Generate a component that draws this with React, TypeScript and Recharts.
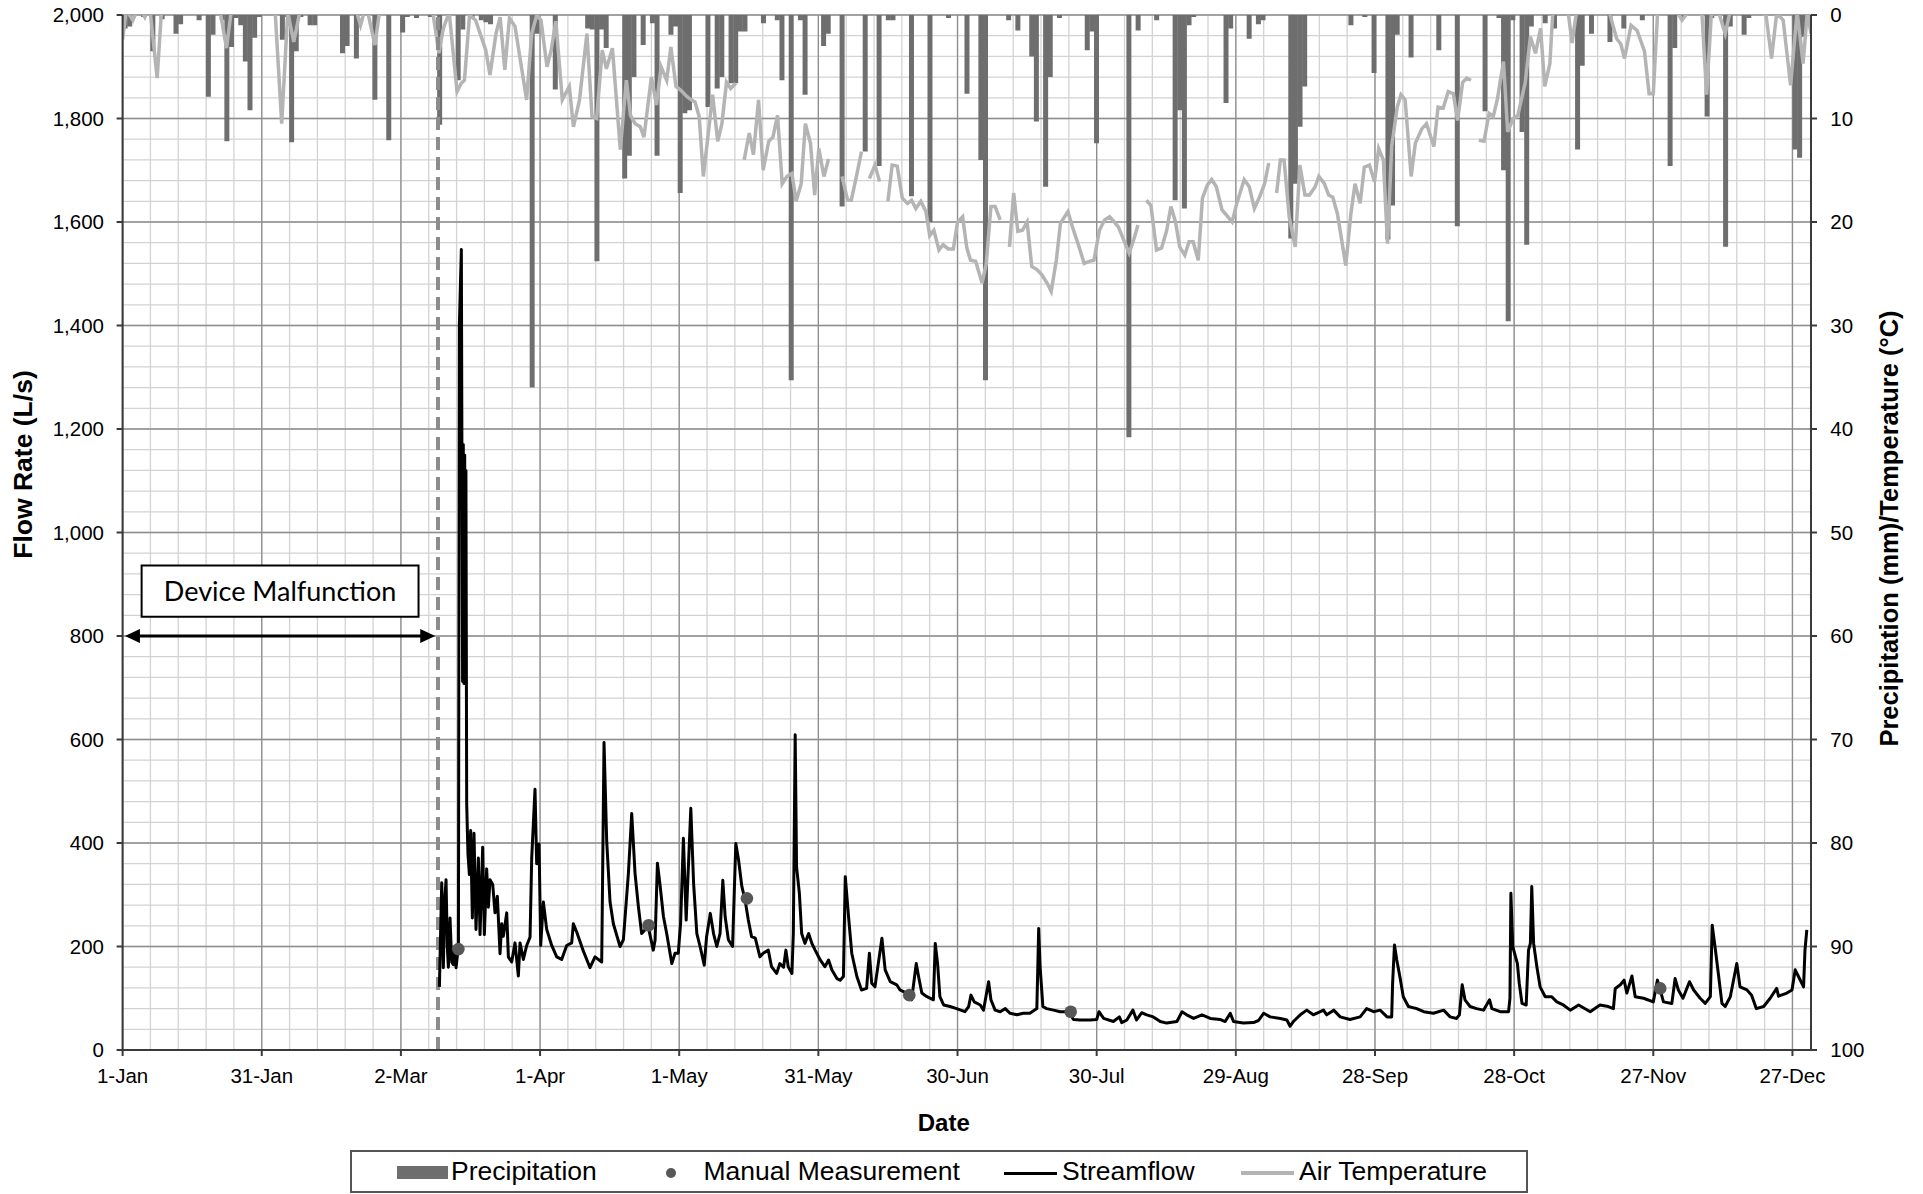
import React from "react";
import {
  ComposedChart,
  Bar,
  Line,
  Scatter,
  XAxis,
  YAxis,
  CartesianGrid,
  ReferenceLine,
  ReferenceArea,
} from "recharts";

// day of year: 0 = 1-Jan, tick every 30 days
const xTickLabels = [
  "1-Jan", "31-Jan", "2-Mar", "1-Apr", "1-May", "31-May", "30-Jun",
  "30-Jul", "29-Aug", "28-Sep", "28-Oct", "27-Nov", "27-Dec",
];
const xTicks = xTickLabels.map((_, i) => i * 30);
const flowTicks = [0, 200, 400, 600, 800, 1000, 1200, 1400, 1600, 1800, 2000];
const rightTicks = [0, 10, 20, 30, 40, 50, 60, 70, 80, 90, 100];

// daily precipitation [day, mm]
const precipitation: [number, number][] = [
  [0, 1.3], [1, 1.1], [4, 0.2], [6, 3.5], [8, 0.4], [11, 1.8], [12, 0.9], [16, 0.5],
  [18, 7.9], [19, 1.9], [21, 0.5], [22, 12.2], [23, 3.1], [24, 0.3], [25, 1.0], [26, 4.5],
  [27, 9.2], [28, 2.2], [29, 0.2], [34, 2.4], [35, 0.2], [36, 12.3], [37, 3.5], [38, 0.2],
  [40, 1.0], [41, 1.0], [47, 3.7], [48, 3.0], [50, 4.2], [54, 8.2], [57, 12.1], [60, 1.7],
  [61, 0.2], [63, 0.3], [66, 0.2], [68, 10.6], [72, 6.3], [73, 1.4], [75, 0.2], [77, 0.5],
  [78, 0.7], [79, 0.9], [88, 36.0], [89, 1.8], [93, 7.2], [100, 1.3], [101, 1.4], [102, 23.8],
  [103, 1.4], [104, 3.2], [108, 15.8], [109, 13.6], [110, 6.0], [112, 2.9], [114, 0.8], [115, 13.6],
  [118, 1.9], [119, 1.1], [120, 17.2], [121, 9.5], [122, 9.2], [126, 8.9], [128, 7.1], [129, 6.0],
  [131, 6.6], [132, 6.6], [133, 1.6], [134, 1.6], [138, 0.8], [141, 0.5], [142, 6.3], [144, 35.3],
  [146, 0.5], [147, 7.7], [151, 3.0], [152, 1.8], [155, 18.5], [160, 13.2], [163, 14.6], [165, 0.5],
  [166, 0.5], [170, 17.5], [174, 20.0], [178, 0.3], [182, 7.6], [185, 14.0], [186, 35.3], [191, 0.5],
  [193, 1.5], [196, 4.0], [197, 10.3], [199, 16.6], [200, 6.0], [202, 0.3], [208, 3.4], [209, 1.6],
  [210, 12.4], [217, 40.8], [219, 1.5], [223, 0.5], [227, 17.9], [228, 9.2], [229, 18.7], [230, 1.0],
  [231, 0.2], [238, 8.5], [239, 1.3], [243, 2.3], [245, 0.9], [246, 0.5], [252, 21.6], [253, 16.3],
  [254, 10.8], [255, 6.9], [265, 1.0], [268, 0.2], [270, 5.6], [273, 21.7], [274, 18.4], [275, 1.9],
  [278, 4.1], [284, 3.4], [288, 20.4], [294, 9.3], [297, 0.3], [298, 15.0], [299, 29.6], [300, 0.5],
  [302, 11.3], [303, 22.2], [304, 1.1], [307, 0.8], [309, 1.3], [314, 13.0], [315, 4.9], [317, 1.8],
  [321, 2.6], [324, 1.3], [328, 0.5], [334, 14.6], [335, 3.2], [337, 0.2], [342, 9.8], [343, 0.3],
  [346, 22.4], [347, 1.1], [350, 1.9], [351, 0.3], [361, 13.0], [362, 13.8], [363, 2.1],
];

// streamflow [day, L/s], logger back online on 9-Mar
const flowMar: [number, number][] = [
  [68.3, 122], [68.8, 323], [69.15, 159], [69.45, 290], [69.73, 329], [70.0, 200], [70.23, 160],
  [70.59, 255], [70.95, 170], [71.31, 165], [71.6, 200], [71.88, 159], [72.15, 180], [72.4, 196],
  [72.6, 1399], [73.03, 1547], [73.15, 1176], [73.3, 712], [73.45, 1170], [73.6, 708], [73.75, 1150],
  [73.9, 720], [74.02, 1120], [74.18, 477], [74.45, 380], [74.76, 339], [75.04, 424], [75.4, 255],
  [75.76, 419], [76.19, 233], [76.7, 371], [77.06, 223], [77.63, 392], [77.99, 223], [78.49, 350],
  [78.85, 276], [79.21, 329], [79.79, 320], [80.29, 265], [80.79, 297], [81.37, 186], [81.73, 244],
  [82.09, 220], [82.81, 265], [83.17, 180], [83.88, 170], [84.6, 207], [85.32, 143], [85.68, 207],
  [86.4, 175], [87.12, 202], [87.84, 218], [88.2, 371], [88.91, 504], [89.27, 360], [89.78, 398],
];
const flowApr: [number, number][] = [
  [90.14, 202], [90.71, 286], [91.43, 233], [92.51, 202], [93.59, 180], [94.66, 175], [95.74, 202],
  [96.82, 207], [97.18, 244], [97.9, 228], [99.34, 191], [100.77, 159], [101.85, 180], [103.29, 170],
  [103.79, 594], [104.37, 403], [105.09, 286], [105.8, 244], [107.24, 200], [107.96, 213], [109.04, 341],
  [109.76, 457], [110.48, 341], [111.2, 277], [111.9, 225], [112.6, 232], [113.4, 235], [114.4, 193],
  [114.8, 212], [115.3, 361], [115.9, 316], [116.6, 258], [117.3, 225], [118.4, 167], [119.1, 187],
  [119.8, 187],
];
const flowMay: [number, number][] = [
  [120.3, 245], [120.9, 409], [121.5, 251], [122.5, 467], [123.1, 322], [123.8, 225], [124.5, 200],
  [125.4, 164], [125.9, 219], [126.7, 264], [127.4, 225], [128.1, 200], [128.8, 225], [129.4, 328],
  [129.9, 258], [130.6, 213], [131.5, 200], [132.2, 399], [132.8, 367], [133.5, 316], [134.2, 290],
  [134.9, 251], [135.6, 219], [136.4, 216], [137.4, 180], [138.1, 187], [139.2, 193], [139.9, 161],
  [141.0, 148], [141.7, 167], [142.5, 160], [143.0, 193], [143.5, 161], [144.3, 148], [144.6, 225],
  [145.0, 609], [145.3, 354], [145.9, 303], [146.4, 225], [147.1, 206], [147.9, 225], [148.6, 206],
  [149.3, 193], [150.4, 174],
];
const flowJun: [number, number][] = [
  [151.4, 161], [152.2, 174], [152.9, 155], [154.0, 138], [154.7, 135], [155.4, 142], [155.8, 335],
  [156.5, 258], [157.2, 187], [158.3, 142], [159.3, 116], [160.4, 119], [161.0, 187], [161.5, 129],
  [162.2, 122], [163.7, 216], [164.4, 155], [165.5, 132], [166.9, 126], [167.6, 116], [169.0, 110],
  [170.1, 97], [171.1, 167], [171.6, 142], [172.3, 110], [173.4, 103], [174.8, 97], [175.2, 206],
  [175.7, 167], [176.2, 103], [177.0, 87], [178.4, 84], [179.8, 80],
];
const flowJul: [number, number][] = [
  [181.6, 74], [182.4, 84], [182.9, 106], [183.6, 93], [184.9, 87], [185.6, 77], [186.7, 132],
  [187.2, 97], [188.1, 77], [189.2, 74], [190.3, 80], [191.3, 71], [192.8, 68], [194.2, 71],
  [195.6, 71], [197.1, 80], [197.5, 235], [197.8, 161], [198.4, 84], [199.2, 80], [200.7, 77],
  [202.1, 74], [203.9, 74], [205.0, 59], [206.4, 58], [208.6, 58], [210.0, 59], [210.5, 74], [211.5, 61],
];
const flowAug: [number, number][] = [
  [213.6, 55], [214.9, 64], [215.4, 53], [216.5, 58], [217.8, 77], [218.6, 58], [219.7, 72],
  [220.8, 68], [222.2, 64], [223.7, 55], [225.1, 52], [227.3, 55], [228.4, 74], [229.4, 68],
  [230.9, 61], [232.7, 68], [234.5, 61], [236.6, 59], [237.7, 55], [238.8, 71], [239.5, 55], [241.6, 52],
];
const flowSep: [number, number][] = [
  [243.8, 53], [244.9, 57], [246.0, 71], [247.4, 64], [249.6, 61], [251.0, 58], [251.7, 46],
  [252.4, 55], [253.9, 68], [255.3, 77], [256.7, 68], [258.9, 77], [259.6, 68], [261.1, 77],
  [262.5, 64], [264.6, 59], [266.8, 64], [268.2, 80], [269.7, 74], [271.1, 77], [272.6, 64],
];
const flowOct: [number, number][] = [
  [273.6, 64], [273.8, 129], [274.2, 203], [274.7, 174], [275.4, 140], [276.1, 103], [277.2, 84],
  [279.0, 80], [280.5, 74], [282.6, 71], [284.8, 77], [286.2, 64], [287.6, 61], [288.2, 68],
  [288.8, 126], [289.4, 97], [290.5, 84], [291.9, 80], [293.4, 77], [294.7, 97], [295.2, 80],
  [297.0, 74], [298.8, 74], [299.1, 100], [299.3, 303], [299.7, 200], [300.7, 167], [301.1, 129],
  [301.7, 90], [302.6, 87], [303.1, 193], [303.5, 206],
];
const flowNov: [number, number][] = [
  [303.8, 316], [304.2, 206], [304.9, 161], [305.6, 122], [306.7, 103], [308.1, 103], [309.2, 93],
  [310.6, 87], [312.1, 77], [313.9, 87], [316.4, 74], [318.5, 87], [320.3, 84], [321.4, 80],
  [321.8, 119], [322.9, 126], [323.7, 135], [324.3, 110], [325.4, 143], [326.1, 103], [327.9, 100],
  [330.0, 93], [330.9, 135], [332.2, 93],
];
const flowDec: [number, number][] = [
  [334.0, 90], [334.7, 138], [335.4, 116], [336.4, 100], [337.8, 132], [338.7, 116], [340.1, 100],
  [341.2, 90], [342.3, 103], [342.7, 241], [343.3, 200], [344.1, 142], [344.8, 90], [345.5, 84],
  [346.6, 103], [348.0, 167], [348.7, 122], [350.2, 116], [351.2, 106], [352.2, 80], [353.8, 84],
  [355.2, 100], [356.6, 119], [357.0, 104], [358.8, 110], [359.9, 116], [360.6, 155], [361.3, 142],
  [362.4, 122], [362.7, 193], [363.1, 232],
];

// manual gauging [day, L/s]
const manualMeasurements: [number, number][] = [
  [72.4, 195], [113.4, 241], [134.6, 293], [169.6, 106], [204.4, 74], [331.5, 119],
];

// daily air temperature [day, °C]; null = missing record
const tempJanApr: [number, number | null][] = [
  [0, 2.4], [0.8, -0.5], [2.2, 0.5], [3.5, -0.8], [4.8, 0.2], [5.8, -1], [7.45, 6.1], [8.4, -0.5],
  [9.5, -4], [11, -6], [13, -3], [15, -5], [17, -3], [19, -4], [20.8, -1], [22.4, 3.2], [23.6, -1],
  [25, -4], [27, -3], [29, -5], [31, -3], [32.8, -1], [34.3, 10.5], [35.6, -0.3], [36.9, 2.6],
  [38.3, -0.5], [40, -3], [42, -5], [44, -2], [46, -4], [48, -3], [50, -1], [51.3, 1.0], [52.5, -1],
  [54.4, 2.9], [55.6, -1], [57, -4], [59, -3], [61, -5], [63, -2], [65, -3], [66.8, -0.5], [68.2, 3.7],
  [69.1, 1.4], [70.4, -0.3], [72.1, 7.4], [73.0, 6.6], [73.7, 6.3], [74.8, 0], [76.1, 0.5], [78.3, 3.4],
  [79.2, 5.8], [80.5, 1.8], [81.4, 0.2], [82.4, 5.3], [83.4, 0.3], [84.6, 1.1], [87.1, 8.2], [88.2, 1.8],
  [89.3, 0], [90.2, 0.5], [91.5, 5.0], [92.4, 3.4], [93.4, 0.6], [94.8, 8.2], [96.3, 6.9], [97.2, 10.8],
  [98.5, 8.2], [100.1, 1.8], [101.2, 9.8], [102.2, 10.0], [103.4, 3.4], [104.3, 5.2], [105.6, 3.2],
  [107.3, 13.0], [108.6, 6.3], [109.5, 9.7], [110.5, 10.5],
];
const tempMayJul: [number, number | null][] = [
  [111.6, 10.8], [112.4, 11.8], [114.0, 6.0], [115.1, 8.7], [116.1, 5.0], [117.3, 6.3], [118.2, 3.1],
  [119.3, 6.9], [120.4, 7.3], [121.7, 7.9], [122.6, 8.2], [123.4, 8.4], [124.3, 9.8], [125.2, 15.6],
  [126.1, 12.1], [127.2, 7.7], [128.3, 12.2], [129.2, 10.5], [130.2, 6.5], [131.1, 7.1], [132.2, 6.6],
  [133.1, null], [134.0, 14.0], [135.1, 11.4], [136.0, 13.5], [137.1, 8.2], [138.1, 15.0], [139.3, 12.2],
  [140.2, 11.8], [141.2, 9.7], [142.2, 16.3], [143.2, 15.6], [144.3, 15.3], [145.2, 18.0], [146.3, 16.3],
  [147.2, 10.5], [148.3, 12.4], [149.2, 17.4], [150.1, 12.9], [151.2, 15.6], [152.2, 13.9], [153.6, null],
  [155.1, 15.6], [156.3, 17.9], [157.1, 17.9], [158.2, 15.6], [159.3, 13.2], [160.2, null], [161.0, 15.8],
  [162.2, 14.5], [163.2, 16.1], [164.1, null], [165.0, 18.0], [165.9, 14.5], [167.0, 14.6], [168.1, 17.7],
  [169.2, 18.2], [170.1, 17.9], [171.0, 18.7], [172.1, 18.0], [173.2, 19.0], [174.0, 21.3], [174.9, 20.8],
  [176.0, 22.7], [176.9, 22.2], [178.0, 22.6], [179.1, 22.6], [180.0, 20.0], [181.1, 19.5], [182.0, 22.5],
  [182.8, 23.7], [183.9, 23.8], [185.3, 25.9], [186.2, 24.0], [187.2, 18.5], [188.1, 18.5], [189.2, 19.8],
  [190.2, null], [191.2, 22.4], [192.1, 17.2], [193.0, 20.9], [194.0, 20.8], [195.0, 20.0], [196.0, 24.3],
  [197.1, 24.6], [198.2, 25.1], [199.3, 25.9], [200.2, 26.7], [201.3, 23.7], [202.2, 20.1], [203.8, 19.0],
  [204.8, 20.5], [206.2, 22.4], [207.3, 24.0], [208.4, 23.8], [209.4, 23.7], [210.6, 20.8], [211.7, 19.8],
];
const tempAugSep: [number, number | null][] = [
  [212.8, 19.5], [213.8, 20.0], [214.7, 20.5], [215.8, 21.7], [217.0, 23.0], [218.0, 21.7], [218.9, 20.3],
  [219.8, null], [220.7, 17.9], [221.7, 18.4], [222.9, 22.7], [224.0, 22.5], [225.1, 20.8], [226.0, 18.5],
  [227.0, 20.0], [227.9, 22.4], [229.0, 23.2], [229.9, 21.9], [230.8, 21.9], [231.9, 23.7], [232.8, 17.7],
  [233.9, 16.4], [234.8, 15.9], [235.8, 16.6], [237.0, 18.8], [238.3, 19.5], [239.2, 20.0], [240.2, 18.2],
  [241.8, 15.9], [242.9, 16.6], [244.0, 18.7], [245.1, 17.6], [246.2, 16.3], [247.1, 14.3], [248.0, null],
  [248.8, 17.2], [249.6, 14.0], [250.4, 14.0], [251.5, 19.5], [252.8, 22.4], [253.8, 14.5], [254.9, 17.4],
  [255.9, 17.4], [257.1, 16.6], [257.9, 15.6], [259.1, 16.3], [260.0, 17.4], [260.9, 17.6], [261.9, 19.2],
  [262.8, 21.7], [263.7, 24.2], [264.8, 19.2], [265.7, 16.3], [266.8, 18.2], [267.7, 14.7], [268.8, 14.5],
  [269.9, 16.1], [270.8, 12.9], [271.8, 14.0], [272.7, 22.1],
];
const tempOctDec: [number, number | null][] = [
  [273.6, 12.7], [274.8, 8.9], [275.6, 7.7], [276.5, 8.2], [277.8, 15.6], [278.7, 12.4], [280.1, 11.0],
  [281.1, 10.5], [282.7, 12.7], [283.6, 8.9], [284.7, 9.0], [285.8, 7.4], [286.9, 7.6], [287.8, 10.2],
  [288.9, 6.5], [289.8, 6.1], [290.7, 6.3], [291.5, null], [292.4, 12.1], [293.5, 12.2], [294.6, 9.5],
  [295.5, 9.8], [296.4, 8.1], [297.7, 4.5], [298.6, 11.3], [299.8, 10.0], [300.8, 9.7], [302.4, 6.5],
  [303.5, 2.1], [304.6, 3.7], [305.7, 1.3], [306.6, 6.9], [307.7, 4.7], [308.3, 0], [309.3, -0.5],
  [310.5, -0.2], [311.6, -0.4], [312.5, 2.7], [313.5, -0.5], [315, -3], [317, -4], [319, -2],
  [320.5, -0.3], [322.1, 2.3], [323.0, 2.8], [323.8, 4.2], [325.2, 1.0], [326.5, 1.5], [328.1, 3.5],
  [329.1, 7.6], [330.0, 7.6], [330.9, 0], [332, -0.6], [333.5, -0.2], [335, -0.4], [336.2, 0.5],
  [337.5, -0.3], [339, -0.5], [340.5, 0], [341.5, 7.7], [342.5, 0], [344, -0.4], [345.5, 1.8],
  [346.5, -0.2], [348, -0.6], [350, -0.3], [352, -0.5], [354.3, 0], [355.5, 4.2], [356.6, -0.2],
  [358, 0.5], [359.6, 6.8], [361, -0.3], [362.3, 4.7], [363.2, -0.3], [364, 1.8],
];

// minor grid: every 6 days and every 40 L/s
const minorDays = Array.from({ length: 61 }, (_, i) => i * 6);
const minorFlow = Array.from({ length: 51 }, (_, i) => i * 40);

// one row per calendar day for the rain columns (dry days stay empty)
const rainByDay = new Map(precipitation);
const dayRows = Array.from({ length: 365 }, (_, day) => ({
  day,
  precip: rainByDay.has(day) ? rainByDay.get(day) : null,
}));
const flowRows = [
  ...flowMar, ...flowApr, ...flowMay, ...flowJun, ...flowJul,
  ...flowAug, ...flowSep, ...flowOct, ...flowNov, ...flowDec,
].map(([day, v]) => ({ day, flow: v }));
const tempRows = [...tempJanApr, ...tempMayJul, ...tempAugSep, ...tempOctDec].map(([day, v]) => ({
  day,
  temp: v,
}));
const manualRows = manualMeasurements.map(([day, v]) => ({ day, flow: v }));

const FONT = "'Liberation Sans', Arial, Helvetica, sans-serif";
const tickStyle = { fontSize: 20.5, fill: "#000", fontFamily: FONT };
const axisLine = { stroke: "#3a3a3a", strokeWidth: 2 };

const DoubleArrow = (props: any) => {
  const { x1, y1, x2, y2 } = props;
  const head = 15;
  const half = 7;
  return (
    <g>
      <line x1={x1 + head - 2} y1={y1} x2={x2 - head + 2} y2={y2} stroke="#000" strokeWidth={3} />
      <polygon points={`${x1},${y1} ${x1 + head},${y1 - half} ${x1 + head},${y1 + half}`} fill="#000" />
      <polygon points={`${x2},${y2} ${x2 - head},${y2 - half} ${x2 - head},${y2 + half}`} fill="#000" />
    </g>
  );
};

const flowTitle = (props: any) => {
  const { x, y, height } = props.viewBox;
  const cx = x - 20;
  const cy = y + height / 2 - 68;
  return (
    <text
      x={cx}
      y={cy}
      transform={`rotate(-90 ${cx} ${cy})`}
      textAnchor="middle"
      dominantBaseline="central"
      fontFamily={FONT}
      fontWeight="bold"
      fontSize={26.5}
      fill="#000"
    >
      Flow Rate (L/s)
    </text>
  );
};

const rightTitle = (props: any) => {
  const { x, y, height } = props.viewBox;
  const cx = x + 78;
  const cy = y + height / 2 - 4;
  return (
    <text
      x={cx}
      y={cy}
      transform={`rotate(-90 ${cx} ${cy})`}
      textAnchor="middle"
      dominantBaseline="central"
      fontFamily={FONT}
      fontWeight="bold"
      fontSize={25.5}
      fill="#000"
    >
      Precipitation (mm)/Temperature (°C)
    </text>
  );
};

const dateTitle = (props: any) => {
  const { x, y, width } = props.viewBox;
  return (
    <text
      x={x + width / 2 - 23}
      y={y + 81}
      textAnchor="middle"
      fontFamily={FONT}
      fontWeight="bold"
      fontSize={24}
      fill="#000"
    >
      Date
    </text>
  );
};

const legendText: React.CSSProperties = {
  position: "absolute",
  top: 0,
  height: 39,
  display: "flex",
  alignItems: "center",
  fontSize: 26.5,
  fontFamily: FONT,
  color: "#000",
  whiteSpace: "nowrap",
};

function ChartLegend() {
  return (
    <div
      style={{
        position: "absolute",
        left: 341.5,
        top: 1142.4,
        width: 1178.5,
        height: 43,
        border: "2px solid #555",
        boxSizing: "border-box",
        background: "#fff",
      }}
    >
      <div style={{ position: "absolute", left: 45.5, top: 14, width: 51, height: 13, background: "#6e6e6e" }} />
      <div style={{ ...legendText, left: 99.5 }}>Precipitation</div>
      <div
        style={{
          position: "absolute",
          left: 314,
          top: 16,
          width: 10,
          height: 10,
          borderRadius: "50%",
          background: "#575757",
        }}
      />
      <div style={{ ...legendText, left: 352 }}>Manual Measurement</div>
      <div style={{ position: "absolute", left: 652.5, top: 19.5, width: 53, height: 3, background: "#000" }} />
      <div style={{ ...legendText, left: 710.5 }}>Streamflow</div>
      <div style={{ position: "absolute", left: 889.5, top: 19, width: 53, height: 4, background: "#b4b4b4" }} />
      <div style={{ ...legendText, left: 947.5 }}>Air Temperature</div>
    </div>
  );
}

export default function App() {
  return (
    <div style={{ position: "relative", width: 1907, height: 1186, background: "#fff" }}>
      <ComposedChart
        width={1907}
        height={1186}
        data={dayRows}
        margin={{ top: 7, right: 34, bottom: 54, left: 34.6 }}
        barCategoryGap={0}
        barGap={0}
        style={{ fontFamily: FONT }}
      >
        <CartesianGrid xAxisId="minor" yAxisId="minor" stroke="#d3d3d3" strokeWidth={1.3} />
        <CartesianGrid stroke="#8e8e8e" strokeWidth={1.3} />
        <XAxis
          dataKey="day"
          type="number"
          domain={[0, 364]}
          ticks={xTicks}
          interval={0}
          allowDataOverflow
          tickFormatter={(d: number) => xTickLabels[Math.round(d / 30)]}
          tick={tickStyle}
          tickSize={6}
          tickMargin={12.5}
          axisLine={axisLine}
          tickLine={axisLine}
          height={90}
          label={dateTitle}
        />
        <XAxis
          xAxisId="minor"
          dataKey="day"
          type="number"
          domain={[0, 364]}
          ticks={minorDays}
          interval={0}
          allowDataOverflow
          hide
        />
        <XAxis xAxisId="days" dataKey="day" type="category" hide />
        <YAxis
          domain={[0, 2000]}
          ticks={flowTicks}
          interval={0}
          tickFormatter={(v: number) => v.toLocaleString("en-US")}
          tick={tickStyle}
          tickSize={6}
          tickMargin={12.6}
          axisLine={axisLine}
          tickLine={axisLine}
          width={80}
          label={flowTitle}
        />
        <YAxis yAxisId="minor" domain={[0, 2000]} ticks={minorFlow} interval={0} allowDataOverflow hide />
        <YAxis
          yAxisId="right"
          orientation="right"
          domain={[0, 100]}
          reversed
          allowDataOverflow
          ticks={rightTicks}
          interval={0}
          tick={tickStyle}
          tickSize={6}
          tickMargin={13.3}
          axisLine={axisLine}
          tickLine={axisLine}
          width={70}
          label={rightTitle}
        />
        <Bar
          xAxisId="days"
          yAxisId="right"
          dataKey="precip"
          fill="#6e6e6e"
          isAnimationActive={false}
        />
        <Line
          yAxisId="right"
          data={tempRows}
          dataKey="temp"
          type="linear"
          stroke="#b4b4b4"
          strokeWidth={3.5}
          dot={false}
          activeDot={false}
          connectNulls={false}
          isAnimationActive={false}
        />
        <ReferenceLine x={68} stroke="#8c8c8c" strokeWidth={4} strokeDasharray="13 7" />
        <Line
          data={flowRows}
          dataKey="flow"
          type="linear"
          stroke="#000"
          strokeWidth={3}
          strokeLinejoin="round"
          dot={false}
          activeDot={false}
          isAnimationActive={false}
        />
        <Scatter
          data={manualRows}
          dataKey="flow"
          isAnimationActive={false}
          shape={(p: any) => <circle cx={p.cx} cy={p.cy} r={6.3} fill="#575757" />}
        />
        <ReferenceArea
          x1={4.1}
          x2={63.8}
          y1={837}
          y2={936}
          fill="#fff"
          fillOpacity={1}
          stroke="#000"
          strokeWidth={2}
          label={{
            value: "Device Malfunction",
            position: "center",
            fill: "#000",
            fontSize: 27,
            fontFamily: "Lato, 'Open Sans', sans-serif",
          }}
        />
        <ReferenceLine
          segment={[
            { x: 0.5, y: 800 },
            { x: 67.4, y: 800 },
          ]}
          shape={DoubleArrow}
        />
      </ComposedChart>
      <ChartLegend />
    </div>
  );
}
